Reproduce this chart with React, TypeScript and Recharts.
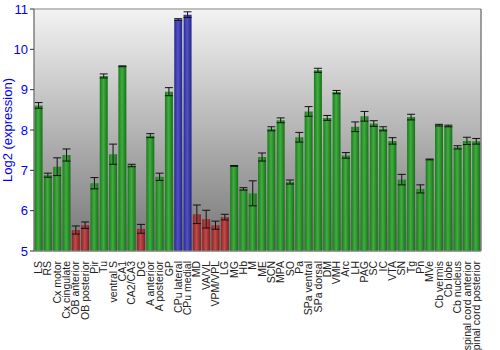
import React from 'react';
import {
  ComposedChart, Bar, Cell, ErrorBar, XAxis, YAxis, CartesianGrid, ReferenceArea,
} from 'recharts';

const regions = [
  'LS', 'RS', 'Cx motor', 'Cx cingulate', 'OB anterior', 'OB posterior', 'Pir', 'Tu',
  'ventral S', 'CA1', 'CA2/CA3', 'DG', 'A anterior', 'A posterior', 'GP', 'CPu lateral',
  'CPu medial', 'MD', 'VA/VL', 'VPM/VPL', 'LG', 'MG', 'Hb', 'M', 'ME', 'SCN', 'MPA', 'SO',
  'Pa', 'SPa ventral', 'SPa dorsal', 'DM', 'VMH', 'Arc', 'LH', 'PAG', 'SC', 'IC', 'VTA',
  'SN', 'Tg', 'Pn', 'MVe', 'Cb vermis', 'Cb lobe', 'Cb nucleus', 'spinal cord anterior',
  'spinal cord posterior',
];

const expression = [
  8.61, 6.88, 7.09, 7.38, 5.52, 5.64, 6.68, 9.34,
  7.4, 9.58, 7.12, 5.55, 7.86, 6.84, 8.95, 10.74,
  10.86, 5.91, 5.79, 5.64, 5.84, 7.11, 6.54, 6.43, 7.33, 8.03, 8.24, 6.71,
  7.82, 8.46, 9.48, 8.3, 8.94, 7.37, 8.08, 8.34, 8.16, 8.03, 7.73,
  6.77, 8.32, 6.54, 7.27, 8.12, 8.1, 7.57, 7.73,
  7.72,
];

const stdErr = [
  0.07, 0.05, 0.22, 0.15, 0.1, 0.08, 0.14, 0.05,
  0.25, 0.01, 0.03, 0.11, 0.05, 0.09, 0.1, 0.02,
  0.07, 0.23, 0.22, 0.1, 0.07, 0.01, 0.03, 0.31, 0.1, 0.05, 0.06, 0.05,
  0.12, 0.12, 0.05, 0.06, 0.04, 0.07, 0.12, 0.12, 0.07, 0.05, 0.08,
  0.13, 0.07, 0.1, 0.01, 0.02, 0.02, 0.04, 0.09,
  0.07,
];

// g = normal, r = low, b = high
const group = [
  'g', 'g', 'g', 'g', 'r', 'r', 'g', 'g',
  'g', 'g', 'g', 'r', 'g', 'g', 'g', 'b',
  'b', 'r', 'r', 'r', 'r', 'g', 'g', 'g', 'g', 'g', 'g', 'g',
  'g', 'g', 'g', 'g', 'g', 'g', 'g', 'g', 'g', 'g', 'g',
  'g', 'g', 'g', 'g', 'g', 'g', 'g', 'g',
  'g',
];

const yTicks = [5, 6, 7, 8, 9, 10, 11];

const data = regions.map((name, i) => ({
  name,
  value: expression[i],
  err: stdErr[i],
  group: group[i],
}));

const FONT = '"Liberation Sans", Arial, sans-serif';

const XTick = (props: any) => {
  const { x, y, payload } = props;
  return (
    <text
      x={x}
      y={y}
      transform={`rotate(-90, ${x}, ${y})`}
      textAnchor="end"
      dy={3.5}
      dx={-2}
      fontSize={10.5}
      fontFamily={FONT}
      fill="#222"
    >
      {payload.value}
    </text>
  );
};

const App: React.FC = () => {
  return (
    <div style={{ position: 'absolute', left: 0, top: 0, width: 500, height: 350 }}>
      <ComposedChart
        width={500}
        height={350}
        data={data}
        margin={{ top: 9, right: 0, left: 0, bottom: 0 }}
        barCategoryGap="6%"
      >
        <defs>
          <linearGradient id="bgGrad" x1="0" y1="0" x2="0" y2="1">
            <stop offset="0%" stopColor="#f3f3f3" />
            <stop offset="100%" stopColor="#767676" />
          </linearGradient>
          <linearGradient id="gGrad" x1="0" y1="0" x2="1" y2="0">
            <stop offset="0%" stopColor="#1d7a1d" />
            <stop offset="45%" stopColor="#3fae3f" />
            <stop offset="100%" stopColor="#1a6e1a" />
          </linearGradient>
          <linearGradient id="rGrad" x1="0" y1="0" x2="1" y2="0">
            <stop offset="0%" stopColor="#8a2424" />
            <stop offset="45%" stopColor="#c24a4a" />
            <stop offset="100%" stopColor="#7e2020" />
          </linearGradient>
          <linearGradient id="bGrad" x1="0" y1="0" x2="1" y2="0">
            <stop offset="0%" stopColor="#28288e" />
            <stop offset="45%" stopColor="#5252c8" />
            <stop offset="100%" stopColor="#242482" />
          </linearGradient>
        </defs>
        <CartesianGrid
          vertical={false}
          stroke="#ffffff"
          strokeWidth={1.5}
          fill="url(#bgGrad)"
          fillOpacity={1}
        />
        <XAxis
          dataKey="name"
          interval={0}
          height={99}
          tick={<XTick />}
          tickLine={false}
          axisLine={{ stroke: '#808080' }}
        />
        <YAxis
          yAxisId="left"
          domain={[5, 11]}
          ticks={yTicks}
          width={34}
          tick={{ fill: '#0000ff', fontSize: 13, fontFamily: FONT }}
          tickLine={{ stroke: '#333' }}
          tickSize={4}
          tickMargin={2}
          axisLine={{ stroke: '#808080' }}
          label={{
            value: 'Log2 (expression)',
            angle: -90,
            position: 'insideLeft',
            dx: 2,
            dy: 0,
            style: { textAnchor: 'middle', fill: '#0000ff', fontSize: 13, fontFamily: FONT },
          }}
        />
        <YAxis
          yAxisId="right"
          orientation="right"
          domain={[5, 11]}
          ticks={yTicks}
          width={19}
          tick={{ fill: '#0000ff', fontSize: 13, fontFamily: FONT, textAnchor: 'start' }}
          tickLine={{ stroke: '#333' }}
          tickSize={4}
          tickMargin={1}
          axisLine={{ stroke: '#808080' }}
        />
        <ReferenceArea yAxisId="left" y1={5} y2={11} fill="none" stroke="#808080" ifOverflow="visible" />
        <Bar yAxisId="left" dataKey="value" isAnimationActive={false}>
          {data.map((d, i) => (
            <Cell key={i} fill={`url(#${d.group}Grad)`} />
          ))}
          <ErrorBar dataKey="err" width={4} stroke="#111" strokeWidth={1} />
        </Bar>
      </ComposedChart>
    </div>
  );
};

export default App;
